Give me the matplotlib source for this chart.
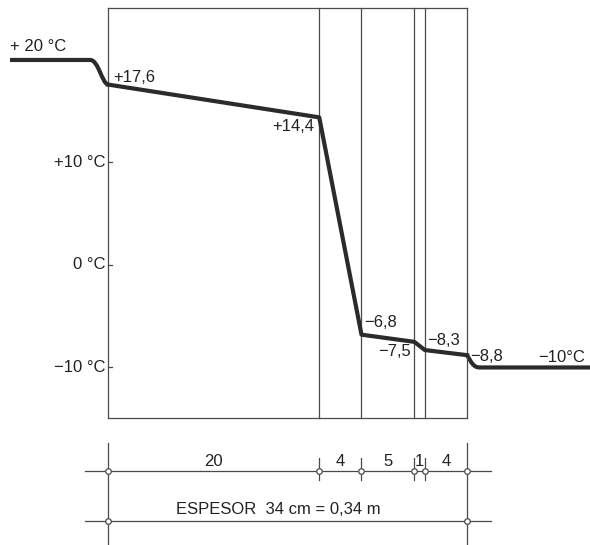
import matplotlib.pyplot as plt
from matplotlib.path import Path
from matplotlib.patches import PathPatch

plt.rcParams['font.family'] = ['Liberation Sans', 'DejaVu Sans']

# layer thicknesses (cm) and temperatures at the interfaces (°C)
espesores = [20, 4, 5, 1, 4]
temps = [17.6, 14.4, -6.8, -7.5, -8.3, -8.8]
temp_labels = ['+17,6', '+14,4', '−6,8', '−7,5', '−8,3', '−8,8']
t_int = 20
t_ext = -10
yticks = [10, 0, -10]
ytick_labels = ['+10 °C', '0 °C', '−10 °C']
total_label = 'ESPESOR  34 cm = 0,34 m'

xs = [0]
for e in espesores:
    xs.append(xs[-1] + e)

ink = '#2b2b2b'
thin = '#4a4a4a'

fig = plt.figure(figsize=(5.9, 5.45), dpi=100)
ax = fig.add_axes([0, 0, 1, 1])
ax.set_xlim(-10.23, 45.64)
ax.set_ylim(-27.32, 25.85)
ax.axis('off')

# wall box and layer lines
top, bot = 25.07, -14.93
ax.plot([xs[0], xs[-1]], [top, top], color=thin, lw=0.9)
ax.plot([xs[0], xs[-1]], [bot, bot], color=thin, lw=0.9)
for x in xs:
    ax.plot([x, x], [bot, top], color=thin, lw=0.9)

# y ticks on the inner face
for t, lab in zip(yticks, ytick_labels):
    ax.plot([-0.05, 0.4], [t, t], color=thin, lw=0.9)
    ax.text(-0.2, t, lab, ha='right', va='center', fontsize=12, color='#222')

# temperature profile through the wall
ax.plot(xs, temps, color=ink, lw=3, solid_joinstyle='round')

# boundary layers (air) with smooth curves
left = Path([(-9.28, t_int), (-1.7, t_int), (-0.9, t_int), (-0.6, temps[0] + 0.15), (xs[0], temps[0])],
            [Path.MOVETO, Path.LINETO, Path.CURVE4, Path.CURVE4, Path.CURVE4])
right = Path([(xs[-1], temps[-1]), (xs[-1] + 0.4, t_ext + 0.5), (xs[-1] + 0.6, t_ext), (xs[-1] + 1.2, t_ext),
              (45.64, t_ext)],
             [Path.MOVETO, Path.CURVE4, Path.CURVE4, Path.CURVE4, Path.LINETO])
for p in (left, right):
    ax.add_patch(PathPatch(p, fill=False, edgecolor=ink, lw=3, capstyle='butt'))

# labels
fs = 12
ax.text(-9.28, t_int + 1.3, '+ 20 °C', ha='left', va='center', fontsize=fs, color='#222')
ax.text(45.2, t_ext + 1.0, '−10°C', ha='right', va='center', fontsize=fs, color='#222')
ax.text(xs[0] + 0.45, 18.3, temp_labels[0], ha='left', va='center', fontsize=fs, color='#222')
ax.text(xs[1] - 0.45, 13.5, temp_labels[1], ha='right', va='center', fontsize=fs, color='#222')
ax.text(xs[2] + 0.3, -5.6, temp_labels[2], ha='left', va='center', fontsize=fs, color='#222')
ax.text(xs[3] - 0.3, -8.45, temp_labels[3], ha='right', va='center', fontsize=fs, color='#222')
ax.text(xs[4] + 0.2, -7.4, temp_labels[4], ha='left', va='center', fontsize=fs, color='#222')
ax.text(xs[5] + 0.3, -8.95, temp_labels[5], ha='left', va='center', fontsize=fs, color='#222')

# dimension lines
y1, y2 = -20.1, -24.98
for y in (y1, y2):
    ax.plot([-2.2, 36.3], [y, y], color=thin, lw=0.9)
for x in (xs[0], xs[-1]):
    ax.plot([x, x], [-17.4, -27.3], color=thin, lw=0.9)
    ax.plot([x], [y2], 'o', ms=4, mfc='white', mec=thin, mew=0.9)
for x in xs:
    if x not in (xs[0], xs[-1]):
        ax.plot([x, x], [-18.8, -21.0], color=thin, lw=0.9)
    ax.plot([x], [y1], 'o', ms=4, mfc='white', mec=thin, mew=0.9)
for a, b, e in zip(xs[:-1], xs[1:], espesores):
    ax.text((a + b) / 2, -19.2, str(e), ha='center', va='center', fontsize=fs, color='#222')
ax.text(16.1, -23.9, total_label, ha='center', va='center', fontsize=fs, color='#222')

fig.savefig('out.png', dpi=100, facecolor='white')
